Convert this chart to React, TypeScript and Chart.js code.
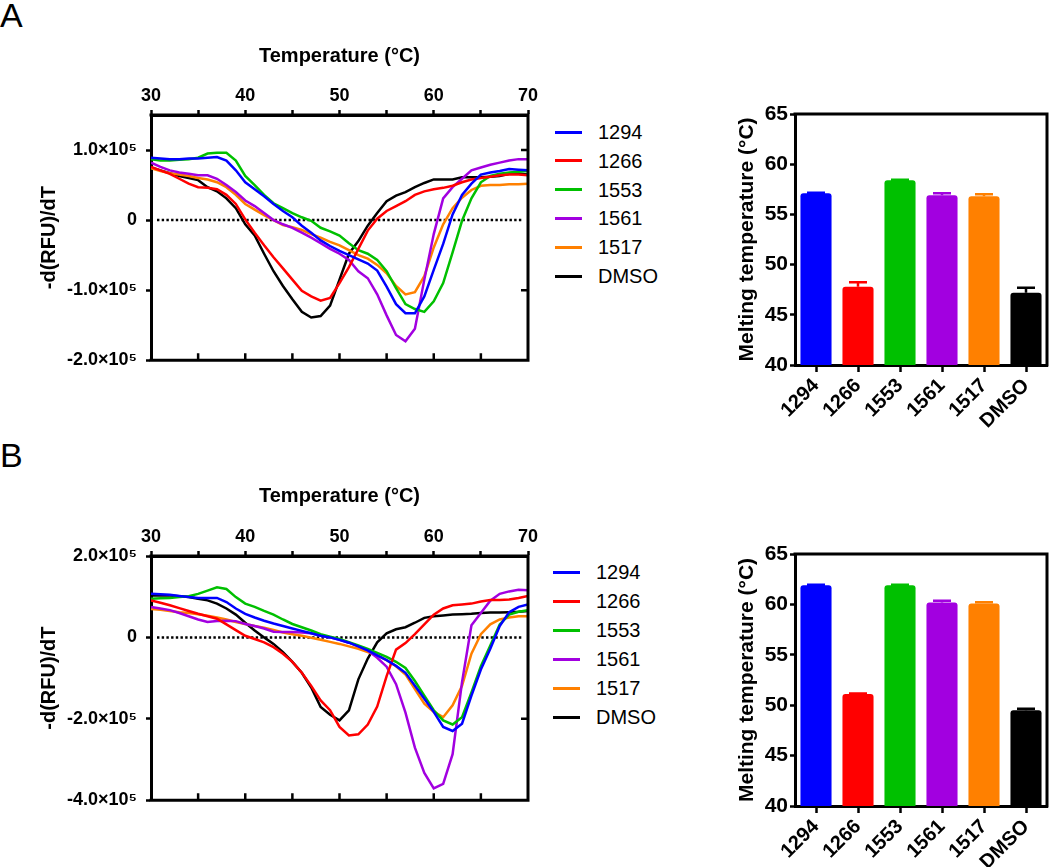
import React, { useEffect, useRef } from 'react';
import { Chart, registerables } from 'chart.js';

Chart.register(...registerables);

const FONT = "'Liberation Sans', Arial, Helvetica, sans-serif";

// ---------------- DATA ----------------
const temperatures = [30, 31, 32, 33, 34, 35, 36, 37, 38, 39, 40, 41, 42, 43, 44, 45, 46, 47, 48, 49, 50, 51, 52, 53, 54, 55, 56, 57, 58, 59, 60, 61, 62, 63, 64, 65, 66, 67, 68, 69, 70];

const seriesNames = ['1294', '1266', '1553', '1561', '1517', 'DMSO'];
const seriesColors = ['#0000FF', '#FF0000', '#00C000', '#A200E0', '#FF8000', '#000000'];

// Panel A: -d(RFU)/dT in units of 1e5
const a1294 = [0.89, 0.88, 0.87, 0.87, 0.88, 0.88, 0.89, 0.90, 0.85, 0.71, 0.54, 0.44, 0.34, 0.23, 0.13, 0.04, -0.08, -0.18, -0.29, -0.37, -0.44, -0.50, -0.56, -0.62, -0.72, -0.95, -1.20, -1.33, -1.33, -1.09, -0.71, -0.34, 0.08, 0.36, 0.52, 0.65, 0.68, 0.70, 0.73, 0.72, 0.71];
const a1266 = [0.76, 0.71, 0.66, 0.59, 0.52, 0.47, 0.46, 0.44, 0.36, 0.23, 0.01, -0.18, -0.36, -0.53, -0.69, -0.85, -1.01, -1.09, -1.15, -1.11, -0.90, -0.67, -0.41, -0.15, 0.02, 0.13, 0.20, 0.27, 0.36, 0.41, 0.44, 0.46, 0.49, 0.54, 0.58, 0.60, 0.62, 0.64, 0.65, 0.65, 0.64];
const a1553 = [0.87, 0.85, 0.85, 0.86, 0.87, 0.89, 0.95, 0.96, 0.96, 0.85, 0.63, 0.50, 0.36, 0.24, 0.17, 0.10, 0.04, -0.01, -0.11, -0.16, -0.22, -0.33, -0.43, -0.48, -0.57, -0.73, -0.97, -1.20, -1.27, -1.31, -1.16, -0.90, -0.46, -0.01, 0.31, 0.54, 0.63, 0.66, 0.68, 0.69, 0.70];
const a1561 = [0.82, 0.76, 0.71, 0.68, 0.66, 0.64, 0.64, 0.59, 0.50, 0.40, 0.28, 0.20, 0.10, 0.00, -0.06, -0.11, -0.18, -0.25, -0.33, -0.41, -0.48, -0.57, -0.73, -0.83, -1.06, -1.36, -1.64, -1.73, -1.55, -0.85, -0.20, 0.31, 0.47, 0.59, 0.71, 0.75, 0.79, 0.82, 0.85, 0.87, 0.87];
const a1517 = [0.74, 0.70, 0.67, 0.65, 0.63, 0.60, 0.58, 0.54, 0.47, 0.36, 0.23, 0.15, 0.07, 0.00, -0.07, -0.10, -0.14, -0.20, -0.25, -0.31, -0.36, -0.43, -0.50, -0.55, -0.64, -0.76, -0.94, -1.06, -1.03, -0.80, -0.39, -0.06, 0.17, 0.32, 0.43, 0.49, 0.50, 0.50, 0.51, 0.51, 0.52];
const aDMSO = [0.75, 0.71, 0.67, 0.63, 0.60, 0.57, 0.47, 0.41, 0.31, 0.17, -0.06, -0.22, -0.48, -0.73, -0.94, -1.13, -1.31, -1.39, -1.37, -1.22, -0.85, -0.48, -0.30, -0.08, 0.10, 0.27, 0.35, 0.40, 0.47, 0.53, 0.58, 0.58, 0.58, 0.61, 0.61, 0.61, 0.62, 0.63, 0.66, 0.66, 0.65];

// Panel B: -d(RFU)/dT in units of 1e5
const b1294 = [1.07, 1.06, 1.05, 1.02, 0.99, 0.97, 0.97, 0.97, 0.87, 0.71, 0.58, 0.49, 0.41, 0.34, 0.28, 0.22, 0.16, 0.10, 0.04, 0.00, -0.06, -0.13, -0.22, -0.32, -0.44, -0.56, -0.70, -0.87, -1.19, -1.51, -1.83, -2.20, -2.30, -2.12, -1.43, -0.79, -0.28, 0.28, 0.62, 0.75, 0.81];
const b1266 = [0.91, 0.85, 0.79, 0.72, 0.65, 0.58, 0.52, 0.46, 0.32, 0.18, 0.04, -0.04, -0.12, -0.24, -0.40, -0.60, -0.87, -1.19, -1.55, -1.79, -2.20, -2.41, -2.38, -2.14, -1.70, -0.95, -0.30, -0.14, 0.08, 0.32, 0.56, 0.71, 0.79, 0.81, 0.83, 0.88, 0.92, 0.92, 0.93, 0.97, 1.02];
const b1553 = [0.95, 0.96, 0.97, 0.99, 1.01, 1.07, 1.15, 1.23, 1.19, 0.99, 0.83, 0.75, 0.65, 0.56, 0.44, 0.33, 0.25, 0.17, 0.08, 0.02, -0.04, -0.12, -0.20, -0.28, -0.38, -0.48, -0.60, -0.75, -1.07, -1.43, -1.79, -2.04, -2.14, -1.96, -1.35, -0.71, -0.20, 0.32, 0.56, 0.63, 0.67];
const b1561 = [0.75, 0.71, 0.67, 0.60, 0.52, 0.44, 0.38, 0.40, 0.41, 0.40, 0.33, 0.28, 0.22, 0.14, 0.13, 0.13, 0.12, 0.10, 0.04, 0.00, -0.06, -0.13, -0.22, -0.32, -0.50, -0.72, -1.15, -1.85, -2.71, -3.33, -3.71, -3.60, -2.87, -1.10, 0.30, 0.60, 0.90, 1.07, 1.13, 1.17, 1.16];
const b1517 = [0.70, 0.68, 0.65, 0.62, 0.60, 0.57, 0.53, 0.49, 0.44, 0.38, 0.33, 0.28, 0.24, 0.18, 0.12, 0.08, 0.04, -0.01, -0.06, -0.11, -0.16, -0.22, -0.28, -0.36, -0.44, -0.56, -0.71, -0.91, -1.27, -1.63, -1.83, -1.96, -1.67, -1.19, -0.40, 0.08, 0.32, 0.44, 0.49, 0.52, 0.52];
const bDMSO = [1.03, 1.03, 1.03, 1.01, 0.99, 0.95, 0.91, 0.83, 0.71, 0.56, 0.36, 0.17, 0.00, -0.16, -0.36, -0.60, -0.87, -1.23, -1.71, -1.90, -2.04, -1.79, -1.03, -0.52, -0.12, 0.10, 0.20, 0.25, 0.36, 0.48, 0.52, 0.54, 0.56, 0.57, 0.58, 0.60, 0.61, 0.61, 0.62, 0.63, 0.65];

const VALUE_UNIT = 1e5;

const tempTicks = [30, 35, 40, 45, 50, 55, 60, 65, 70];
const tempLabelStep = 10;

const yTicksA = [-2e5, -1e5, 0, 1e5];
const yRangeA = [-2e5, 1.5e5];
const yTicksB = [-4e5, -2e5, 0, 2e5];
const yRangeB = [-4e5, 2e5];

// Melting temperatures (°C) and upper error
const meltA = [57.1, 47.8, 58.4, 56.9, 56.8, 47.2];
const errA = [0.05, 0.45, 0.05, 0.2, 0.2, 0.5];
const meltB = [61.9, 51.1, 61.9, 60.2, 60.1, 49.5];
const errB = [0.05, 0.05, 0.05, 0.15, 0.12, 0.15];
const meltTicks = [40, 45, 50, 55, 60, 65];

// ---------------- HELPERS ----------------
function formatSci(v: number): string {
  if (v === 0) return '0';
  return `${(v / VALUE_UNIT).toFixed(1)}×10⁵`;
}

function framePlugin(opts: { top?: boolean; right?: boolean; bottom?: boolean; bottomTicks?: number[]; rightTicks?: number[]; zeroLine?: boolean }) {
  return {
    id: 'frame',
    beforeDatasetsDraw(chart: any) {
      if (!opts.zeroLine) return;
      const { ctx, chartArea: a } = chart;
      const y = chart.scales.y.getPixelForValue(0);
      ctx.save();
      ctx.strokeStyle = '#000';
      ctx.lineWidth = 2.5;
      ctx.setLineDash([2.4, 2.3]);
      ctx.beginPath();
      ctx.moveTo(a.left + 6, y);
      ctx.lineTo(a.right - 6, y);
      ctx.stroke();
      ctx.restore();
    },
    afterDraw(chart: any) {
      const { ctx, chartArea: a } = chart;
      ctx.save();
      ctx.strokeStyle = '#000';
      ctx.lineWidth = 3;
      ctx.lineCap = 'square';
      ctx.beginPath();
      if (opts.top) { ctx.moveTo(a.left, a.top); ctx.lineTo(a.right, a.top); }
      if (opts.right) { ctx.moveTo(a.right, a.top); ctx.lineTo(a.right, a.bottom); }
      if (opts.bottom) { ctx.moveTo(a.left, a.bottom); ctx.lineTo(a.right, a.bottom); }
      ctx.stroke();
      ctx.lineCap = 'butt';
      ctx.lineWidth = 2.5;
      ctx.beginPath();
      (opts.bottomTicks || []).forEach((v) => {
        const px = chart.scales.x.getPixelForValue(v);
        ctx.moveTo(px, a.bottom);
        ctx.lineTo(px, a.bottom - 7);
      });
      (opts.rightTicks || []).forEach((v) => {
        const py = chart.scales.y.getPixelForValue(v);
        ctx.moveTo(a.right, py);
        ctx.lineTo(a.right - 7, py);
      });
      ctx.stroke();
      ctx.restore();
    },
  };
}

function errorBarPlugin(errors: number[], colors: string[]) {
  return {
    id: 'errorBars',
    afterDatasetsDraw(chart: any) {
      const { ctx } = chart;
      const meta = chart.getDatasetMeta(0);
      const ds = chart.data.datasets[0];
      const ys = chart.scales.y;
      ctx.save();
      ctx.lineWidth = 2.5;
      meta.data.forEach((bar: any, i: number) => {
        const v = ds.data[i] as number;
        const y0 = ys.getPixelForValue(v);
        const y1 = ys.getPixelForValue(v + errors[i]);
        ctx.strokeStyle = colors[i];
        ctx.beginPath();
        ctx.moveTo(bar.x, y0);
        ctx.lineTo(bar.x, y1);
        ctx.moveTo(bar.x - 9, y1);
        ctx.lineTo(bar.x + 9, y1);
        ctx.stroke();
      });
      ctx.restore();
    },
  };
}

// ---------------- COMPONENTS ----------------
type LineProps = {
  left: number; top: number; width: number; height: number;
  plotLeft: number; plotTop: number; plotRight: number; plotBottom: number;
  series: number[][]; yRange: number[]; yTicks: number[];
};

function LinePanel(p: LineProps) {
  const ref = useRef<HTMLCanvasElement>(null);
  useEffect(() => {
    const canvas = ref.current!;
    const rightTicks = p.yTicks.filter((v) => v !== 0 && v !== p.yRange[0] && v !== p.yRange[1]);
    const chart = new Chart(canvas, {
      type: 'line',
      data: {
        datasets: p.series.map((vals, i) => ({
          label: seriesNames[i],
          data: temperatures.map((t, j) => ({ x: t, y: vals[j] * VALUE_UNIT })),
          borderColor: seriesColors[i],
          backgroundColor: seriesColors[i],
          borderWidth: 2.5,
          pointRadius: 0,
          tension: 0,
          fill: false,
        })),
      },
      options: {
        responsive: false,
        animation: false,
        events: [],
        layout: { padding: { left: 0, top: 0, right: p.width - p.plotRight, bottom: p.height - p.plotBottom } },
        plugins: { legend: { display: false }, tooltip: { enabled: false } },
        scales: {
          x: {
            type: 'linear',
            position: 'top',
            min: temperatures[0],
            max: temperatures[temperatures.length - 1],
            afterBuildTicks: (s: any) => { s.ticks = tempTicks.map((v) => ({ value: v })); },
            afterFit: (s: any) => { s.height = p.plotTop; },
            ticks: {
              autoSkip: false,
              maxRotation: 0,
              padding: 3,
              color: '#000',
              font: { family: FONT, size: 18, weight: 'bold' },
              callback: (v: any) => (Number(v) % tempLabelStep === 0 ? String(v) : ''),
            },
            grid: { drawOnChartArea: false, drawTicks: true, tickLength: 5, tickWidth: 2.5, tickColor: '#000' },
            border: { display: true, color: '#000', width: 3 },
            title: {
              display: true,
              text: 'Temperature (°C)',
              color: '#000',
              font: { family: FONT, size: 20, weight: 'bold' },
              padding: { top: 44, bottom: 0 },
            },
          },
          y: {
            type: 'linear',
            position: 'left',
            min: p.yRange[0],
            max: p.yRange[1],
            afterBuildTicks: (s: any) => { s.ticks = p.yTicks.map((v) => ({ value: v })); },
            afterFit: (s: any) => { s.width = p.plotLeft; },
            ticks: {
              padding: 9,
              color: '#000',
              font: { family: FONT, size: 18, weight: 'bold' },
              callback: (v: any) => formatSci(Number(v)),
            },
            grid: { drawOnChartArea: false, drawTicks: true, tickLength: 5, tickWidth: 2.5, tickColor: '#000' },
            border: { display: true, color: '#000', width: 3 },
            title: {
              display: true,
              text: '-d(RFU)/dT',
              color: '#000',
              font: { family: FONT, size: 20, weight: 'bold' },
              padding: { top: 37, bottom: 0 },
            },
          },
        },
      } as any,
      plugins: [framePlugin({ top: true, right: true, bottom: true, bottomTicks: tempTicks.slice(1, -1), rightTicks, zeroLine: true })],
    });
    return () => chart.destroy();
  }, []);
  return (
    <canvas
      ref={ref}
      width={p.width}
      height={p.height}
      style={{ position: 'absolute', left: p.left, top: p.top, width: p.width, height: p.height }}
    />
  );
}

type BarProps = {
  left: number; top: number; width: number; height: number;
  plotLeft: number; plotTop: number; plotRight: number; plotBottom: number;
  values: number[]; errors: number[];
};

function BarPanel(p: BarProps) {
  const ref = useRef<HTMLCanvasElement>(null);
  useEffect(() => {
    const canvas = ref.current!;
    const chart = new Chart(canvas, {
      type: 'bar',
      data: {
        labels: seriesNames,
        datasets: [{
          data: p.values,
          backgroundColor: seriesColors,
          borderWidth: 0,
          borderRadius: 3,
          barPercentage: 0.74,
          categoryPercentage: 1,
        }],
      },
      options: {
        responsive: false,
        animation: false,
        events: [],
        layout: { padding: { left: 0, top: p.plotTop, right: p.width - p.plotRight, bottom: 0 } },
        plugins: { legend: { display: false }, tooltip: { enabled: false } },
        scales: {
          x: {
            position: 'bottom',
            afterFit: (s: any) => { s.height = p.height - p.plotBottom; },
            ticks: {
              autoSkip: false,
              minRotation: 45,
              maxRotation: 45,
              padding: 2,
              color: '#000',
              font: { family: FONT, size: 20, weight: 'bold' },
            },
            grid: { offset: false, drawOnChartArea: false, drawTicks: true, tickLength: 7, tickWidth: 2.5, tickColor: '#000' },
            border: { display: true, color: '#000', width: 3 },
          },
          y: {
            position: 'left',
            min: meltTicks[0],
            max: meltTicks[meltTicks.length - 1],
            afterBuildTicks: (s: any) => { s.ticks = meltTicks.map((v) => ({ value: v })); },
            afterFit: (s: any) => { s.width = p.plotLeft; },
            ticks: {
              padding: 2,
              color: '#000',
              font: { family: FONT, size: 21, weight: 'bold' },
            },
            grid: { drawOnChartArea: false, drawTicks: true, tickLength: 5, tickWidth: 2.5, tickColor: '#000' },
            border: { display: true, color: '#000', width: 3 },
            title: {
              display: true,
              text: 'Melting temperature (°C)',
              color: '#000',
              font: { family: FONT, size: 21, weight: 'bold' },
              padding: { top: 55, bottom: 0 },
            },
          },
        },
      } as any,
      plugins: [framePlugin({ top: true, right: true }), errorBarPlugin(p.errors, seriesColors)],
    });
    return () => chart.destroy();
  }, []);
  return (
    <canvas
      ref={ref}
      width={p.width}
      height={p.height}
      style={{ position: 'absolute', left: p.left, top: p.top, width: p.width, height: p.height }}
    />
  );
}

function Legend({ left, top, spacing }: { left: number; top: number; spacing: number }) {
  return (
    <>
      {seriesNames.map((name, i) => (
        <div
          key={name}
          style={{ position: 'absolute', left, top: top + i * spacing - 12, height: 24, display: 'flex', alignItems: 'center' }}
        >
          <div style={{ width: 27, height: 3, background: seriesColors[i] }} />
          <span style={{ marginLeft: 16, fontFamily: FONT, fontSize: 20, lineHeight: '24px', color: '#000' }}>{name}</span>
        </div>
      ))}
    </>
  );
}

export default function App() {
  return (
    <div style={{ position: 'absolute', left: 0, top: 0, width: 1050, height: 867, overflow: 'hidden', background: '#fff' }}>
      <div style={{ position: 'absolute', left: 0, top: -2, fontFamily: FONT, fontSize: 34, lineHeight: '34px', color: '#000' }}>A</div>
      <div style={{ position: 'absolute', left: 0, top: 438, fontFamily: FONT, fontSize: 34, lineHeight: '34px', color: '#000' }}>B</div>

      <LinePanel
        left={0} top={0} width={545} height={380}
        plotLeft={151} plotTop={115} plotRight={528} plotBottom={365}
        series={[a1294, a1266, a1553, a1561, a1517, aDMSO]}
        yRange={yRangeA} yTicks={yTicksA}
      />
      <Legend left={555} top={132} spacing={28.8} />

      <LinePanel
        left={0} top={440} width={545} height={380}
        plotLeft={151} plotTop={116} plotRight={528} plotBottom={367}
        series={[b1294, b1266, b1553, b1561, b1517, bDMSO]}
        yRange={yRangeB} yTicks={yTicksB}
      />
      <Legend left={553} top={572} spacing={29} />

      <BarPanel
        left={680} top={80} width={370} height={380}
        plotLeft={115} plotTop={34} plotRight={367} plotBottom={285}
        values={meltA} errors={errA}
      />
      <BarPanel
        left={680} top={520} width={370} height={347}
        plotLeft={115} plotTop={34} plotRight={367} plotBottom={286}
        values={meltB} errors={errB}
      />
    </div>
  );
}
